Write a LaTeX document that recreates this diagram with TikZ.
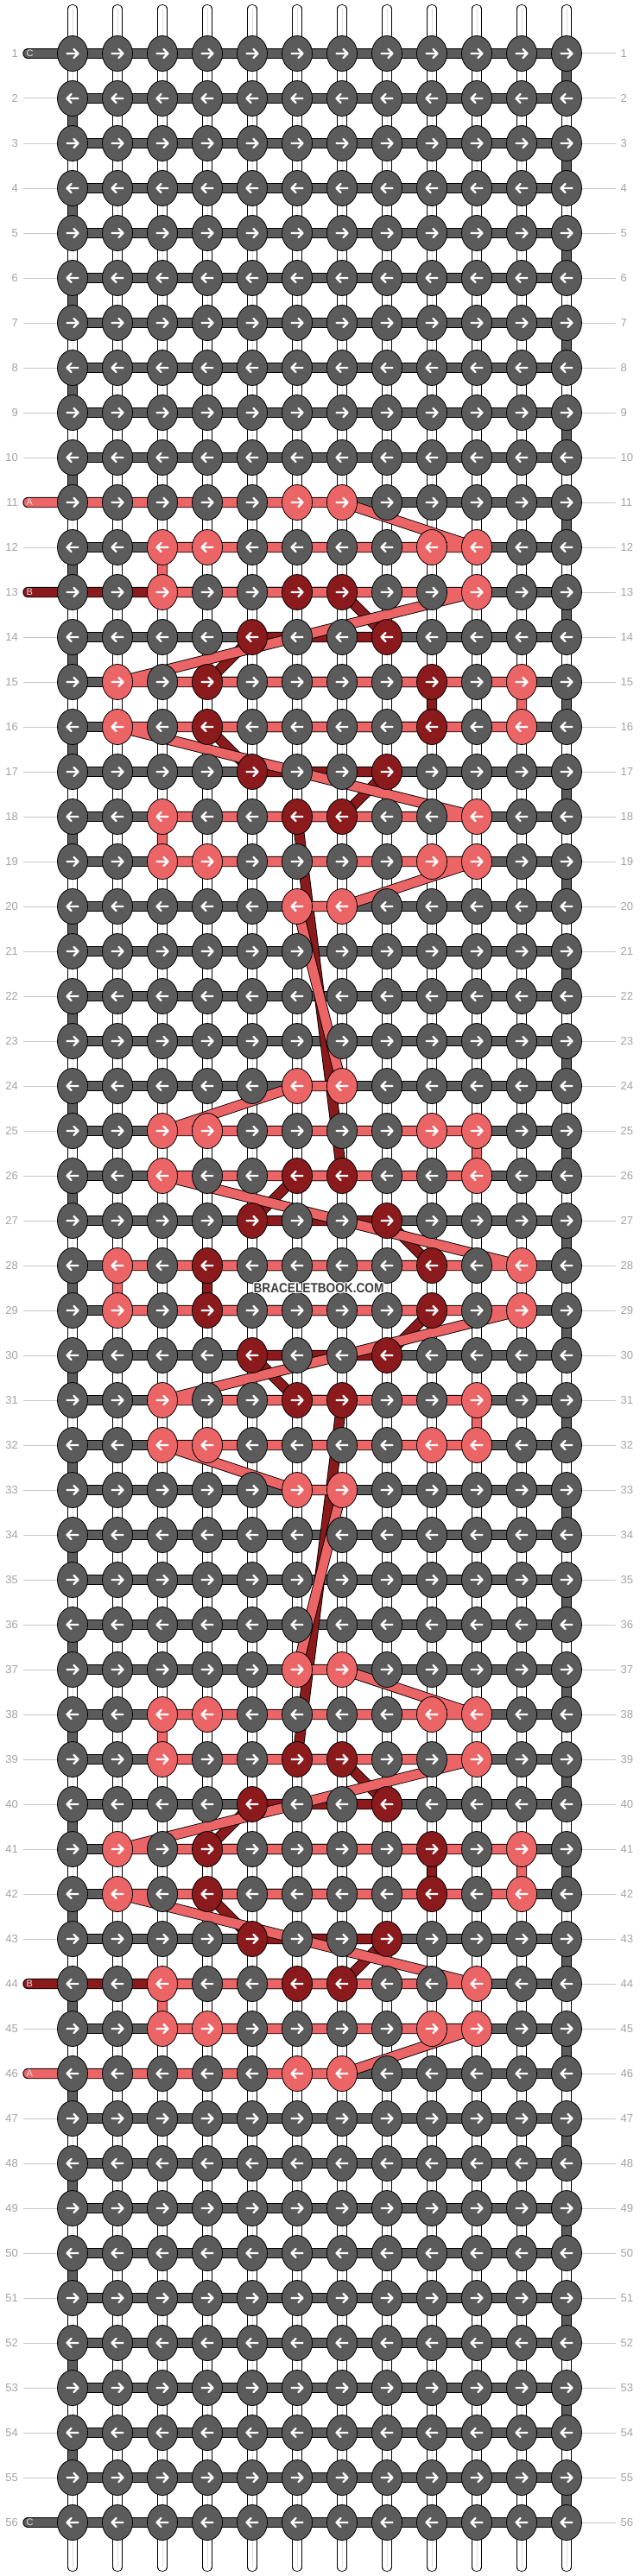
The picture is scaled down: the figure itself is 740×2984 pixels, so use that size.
\documentclass[tikz,border=0pt]{standalone}
\usepackage{fontspec}
\setmainfont{Liberation Sans}
\usetikzlibrary{shapes.geometric}
\definecolor{kgray}{HTML}{5B5B5B}
\definecolor{ksalmon}{HTML}{EC6566}
\definecolor{kred}{HTML}{8B1A1C}
\definecolor{lblgray}{HTML}{A3A3A3}
\definecolor{linegray}{HTML}{C8C8C8}
\definecolor{wmgray}{HTML}{3C3C3C}
\begin{document}
\begin{tikzpicture}[x=1pt,y=-1pt,
  knot/.style={ellipse, draw=black, line width=0.8pt, minimum width=35pt, minimum height=41pt, inner sep=0pt},
  strand/.style={line width=10.5pt, line cap=round, line join=round, preaction={draw=black, line width=12.3pt, line cap=round, line join=round}},
  wstring/.style={line width=9.4pt, white, line cap=round, preaction={draw=black, line width=11.2pt, line cap=round}, postaction={draw=black!13, line width=0.7pt}},
  arrw/.style={white, line width=2.3pt, line cap=round, line join=round},
  lbl/.style={text=lblgray, inner sep=0pt, font=\fontsize{13}{13}\selectfont},
  lblline/.style={linegray, line width=1pt},
  pilltxt/.style={text=white!88!black, inner sep=0pt, anchor=west, font=\fontsize{11}{11}\selectfont},
  wmtxt/.style={inner sep=0pt, font=\bfseries\fontsize{15.5}{15.5}\selectfont}
]
\fill[white] (0,0) rectangle (740,2984);
\useasboundingbox (0,0) rectangle (740,2984);
% knot colours
\foreach \o in {0,13,26}{
  \foreach \r/\c in {11/6,11/7,12/3,12/4,12/9,12/10,13/3,13/10,15/2,15/11,16/2,16/11,18/3,18/10,19/3,19/4,19/9,19/10,20/6,20/7}{
    \pgfmathtruncatemacro\rr{\r+\o}
    \expandafter\xdef\csname kc-\rr-\c\endcsname{ksalmon}}
  \foreach \r/\c in {13/6,13/7,14/5,14/8,15/4,15/9,16/4,16/9,17/5,17/8,18/6,18/7}{
    \pgfmathtruncatemacro\rr{\r+\o}
    \expandafter\xdef\csname kc-\rr-\c\endcsname{kred}}
}
% coordinates
\foreach \r in {1,...,56}{
  \foreach \c in {1,...,12}{ \coordinate (p-\r-\c) at ({32+52*\c},{10+52*\r}); }
  \coordinate (L-\r) at (32.5,{10+52*\r});
}
% white vertical strings
\foreach \c in {1,...,12}{
  \coordinate (t-\c) at ({32+52*\c},10.5);
  \coordinate (b-\c) at ({32+52*\c},2973.5);
  \draw[wstring] (t-\c) -- (b-\c);
}
% string C
\draw[strand, kgray] (L-1) \foreach \r [evaluate=\r as \s using int(\r+1)] in {1,3,...,55} { -- (p-\r-1) -- (p-\r-12) -- (p-\s-12) -- (p-\s-1) } -- (L-56);
% string B
\draw[strand, kred] (L-13) -- (p-13-7) -- (p-14-8) -- (p-14-5) -- (p-15-4) -- (p-15-9) -- (p-16-9) -- (p-16-4) -- (p-17-5) -- (p-17-8) -- (p-18-7) -- (p-18-6)
  -- (p-26-7) -- (p-26-6) -- (p-27-5) -- (p-27-8) -- (p-28-9) -- (p-28-4) -- (p-29-4) -- (p-29-9) -- (p-30-8) -- (p-30-5) -- (p-31-6) -- (p-31-7)
  -- (p-39-6) -- (p-39-7) -- (p-40-8) -- (p-40-5) -- (p-41-4) -- (p-41-9) -- (p-42-9) -- (p-42-4) -- (p-43-5) -- (p-43-8) -- (p-44-7) -- (L-44);
% string A
\draw[strand, ksalmon] (L-11) -- (p-11-7) -- (p-12-10) -- (p-12-3) -- (p-13-3) -- (p-13-10) -- (p-15-2) -- (p-15-11) -- (p-16-11) -- (p-16-2) -- (p-18-10) -- (p-18-3) -- (p-19-3) -- (p-19-10) -- (p-20-7) -- (p-20-6)
  -- (p-24-7) -- (p-24-6) -- (p-25-3) -- (p-25-10) -- (p-26-10) -- (p-26-3) -- (p-28-11) -- (p-28-2) -- (p-29-2) -- (p-29-11) -- (p-31-3) -- (p-31-10) -- (p-32-10) -- (p-32-3) -- (p-33-6) -- (p-33-7)
  -- (p-37-6) -- (p-37-7) -- (p-38-10) -- (p-38-3) -- (p-39-3) -- (p-39-10) -- (p-41-2) -- (p-41-11) -- (p-42-11) -- (p-42-2) -- (p-44-10) -- (p-44-3) -- (p-45-3) -- (p-45-10) -- (p-46-7) -- (L-46);
% knots
\foreach \r in {1,...,56}{
  \foreach \c in {1,...,12}{
    \ifcsname kc-\r-\c\endcsname \edef\kcol{\csname kc-\r-\c\endcsname}\else \def\kcol{kgray}\fi
    \node[knot, fill=\kcol] (k-\r-\c) at (p-\r-\c) {};
    \pgfmathsetmacro\xx{32+52*\c}
    \pgfmathsetmacro\yy{10+52*\r}
    \ifodd\r\relax
      \draw[arrw] ({\xx-6.5},\yy) -- ++(13,0) ++(-5,-5) -- ++(5,5) -- ++(-5,5);
    \else
      \draw[arrw] ({\xx+6.5},\yy) -- ++(-13,0) ++(5,-5) -- ++(-5,5) -- ++(5,5);
    \fi
  }
}
% row labels
\foreach \r in {1,...,56}{
  \pgfmathsetmacro\yy{10+52*\r}
  \node[lbl, anchor=east] (ll-\r) at (21,\yy) {\r};
  \node[lbl, anchor=west] (rl-\r) at (718.5,\yy) {\r};
  \draw[lblline] (k-\r-12.east) -- ([xshift=-6pt]rl-\r.west);
}
\foreach \r in {2,3,...,10,12,14,15,...,43,45,47,48,...,55}{
  \draw[lblline] ([xshift=6pt]ll-\r.east) -- (k-\r-1.west);
}
% string letters
\node[pilltxt] (pc1) at (30.5,62) {C};
\node[pilltxt] (pa1) at (30.5,582) {A};
\node[pilltxt] (pb1) at (30.5,686) {B};
\node[pilltxt] (pb2) at (30.5,2298) {B};
\node[pilltxt] (pa2) at (30.5,2402) {A};
\node[pilltxt] (pc2) at (30.5,2922) {C};
% watermark
\foreach \dx/\dy [count=\i] in {-1.3/0,1.3/0,0/-1.3,0/1.3,-1/-1,1/1,-1/1,1/-1}{
  \node[wmtxt, text=white] (wmh\i) at (369+\dx,1492+\dy) {\scalebox{0.88}[1]{BRACELETBOOK.COM}};
}
\node[wmtxt, text=wmgray] (wm) at (369,1492) {\scalebox{0.88}[1]{BRACELETBOOK.COM}};
\end{tikzpicture}
\end{document}
